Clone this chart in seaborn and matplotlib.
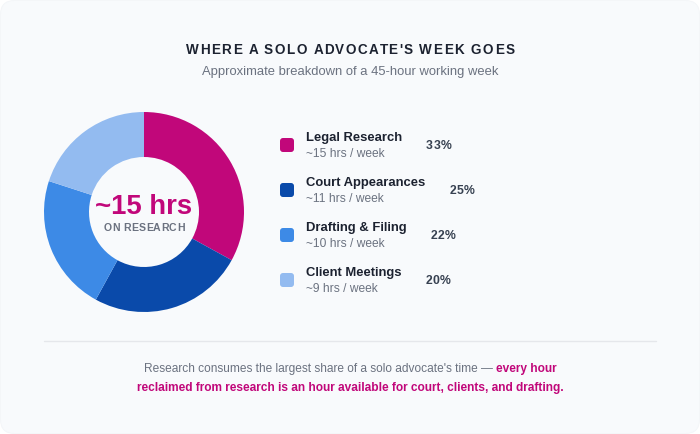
import matplotlib
matplotlib.use("Agg")
import matplotlib.pyplot as plt
import seaborn as sns
from matplotlib.patches import FancyBboxPatch

# ---- data ----
categories = ["Legal Research", "Court Appearances", "Drafting & Filing", "Client Meetings"]
hours_labels = ["~15 hrs / week", "~11 hrs / week", "~10 hrs / week", "~9 hrs / week"]
shares = [33, 25, 22, 20]
share_labels = ["33%", "25%", "22%", "20%"]
colors = ["#C1077A", "#0A4AAA", "#3D8AE6", "#93BBF0"]

title = "WHERE A SOLO ADVOCATE'S WEEK GOES"
subtitle = "Approximate breakdown of a 45-hour working week"
center_big = "~15 hrs"
center_small = "ON RESEARCH"
foot_plain = "Research consumes the largest share of a solo advocate's time \u2014"
foot_bold1 = "every hour"
foot_bold2 = "reclaimed from research is an hour available for court, clients, and drafting."

sns.set_theme(style="white")
plt.rcParams['font.family'] = ['Liberation Sans', 'DejaVu Sans']

PX = 0.72  # px -> pt at dpi 100
DARK = "#1c2230"
GRAY = "#6b7280"
MAG = colors[0]

fig = plt.figure(figsize=(7, 4.34), dpi=100)
fig.patch.set_facecolor("white")
bg = fig.add_axes([0, 0, 1, 1])
bg.set_xlim(0, 700)
bg.set_ylim(434, 0)
bg.axis('off')
bg.add_patch(FancyBboxPatch((0.5, 0.5), 699, 433,
                            boxstyle="round,pad=0,rounding_size=14",
                            fc="#f8fafc", ec="#f3f5f8", lw=0.6))

fig.canvas.draw()
R = fig.canvas.get_renderer()


def tw(s, **kw):
    t = bg.text(0, 0, s, **kw)
    w = t.get_window_extent(R).width
    t.remove()
    return w


def spaced(x, y, s, track, ha='center', **kw):
    bar = tw("|", **kw)
    pos = [tw(s[:i] + "|", **kw) - bar if i else 0 for i in range(len(s))]
    total = tw(s, **kw) + track * (len(s) - 1)
    x0 = x - total / 2 if ha == 'center' else x
    for i, ch in enumerate(s):
        bg.text(x0 + pos[i] + track * i, y, ch, ha='left', va='baseline', **kw)


# title / subtitle
spaced(350, 54, title, 1.45, fontsize=13.5 * PX, fontweight='bold', color=DARK)
bg.text(350, 75, subtitle, ha='center', va='baseline', fontsize=13 * PX, color=GRAY)

# donut
pax = fig.add_axes([44 / 700, (434 - 312) / 434, 200 / 700, 200 / 434])
pax.pie(shares, colors=colors, startangle=90, counterclock=False,
        wedgeprops=dict(width=0.45, edgecolor='none'))
pax.set_xlim(-1, 1)
pax.set_ylim(-1, 1)
pax.set_aspect('equal')
pax.axis('off')

bg.text(144, 214, center_big, ha='center', va='baseline', fontsize=27.5 * PX,
        fontweight='bold', color=MAG)
spaced(144, 231, center_small, 0.35, fontsize=10.5 * PX, fontweight='bold', color="#6b7280")

# legend
for i, (cat, hl, pl, c) in enumerate(zip(categories, hours_labels, share_labels, colors)):
    yc = 145 + 45 * i
    bg.add_patch(FancyBboxPatch((280, yc - 7), 14, 14,
                                boxstyle="round,pad=0,rounding_size=3",
                                fc=c, ec='none'))
    lk = dict(fontsize=13 * PX, fontweight='bold', color=DARK)
    bg.text(306, yc - 4, cat, ha='left', va='baseline', **lk)
    bg.text(306, yc + 12, hl, ha='left', va='baseline', fontsize=12 * PX, color=GRAY)
    xr = 306 + tw(cat, **lk) + 24
    spaced(xr, yc + 4, pl, 0.2, ha='left', fontsize=12.2 * PX,
           fontweight='bold', color="#374151")

# separator
bg.plot([44, 656], [340.5, 340.5], color="#e5e7eb", lw=1)

# footer
fk = dict(fontsize=11.95 * PX)
w1 = tw(foot_plain, **fk)
w2 = tw(foot_bold1, fontweight='bold', **fk)
sp = tw("a a", **fk) - tw("aa", **fk)
total = w1 + sp + w2
x0 = 350 - total / 2
bg.text(x0, 372, foot_plain, ha='left', va='baseline', color=GRAY, **fk)
bg.text(x0 + w1 + sp, 372, foot_bold1, ha='left', va='baseline', color=MAG,
        fontweight='bold', **fk)
bg.text(350, 391, foot_bold2, ha='center', va='baseline', color=MAG,
        fontweight='bold', **fk)

fig.savefig("out.png", dpi=100, facecolor="white")
